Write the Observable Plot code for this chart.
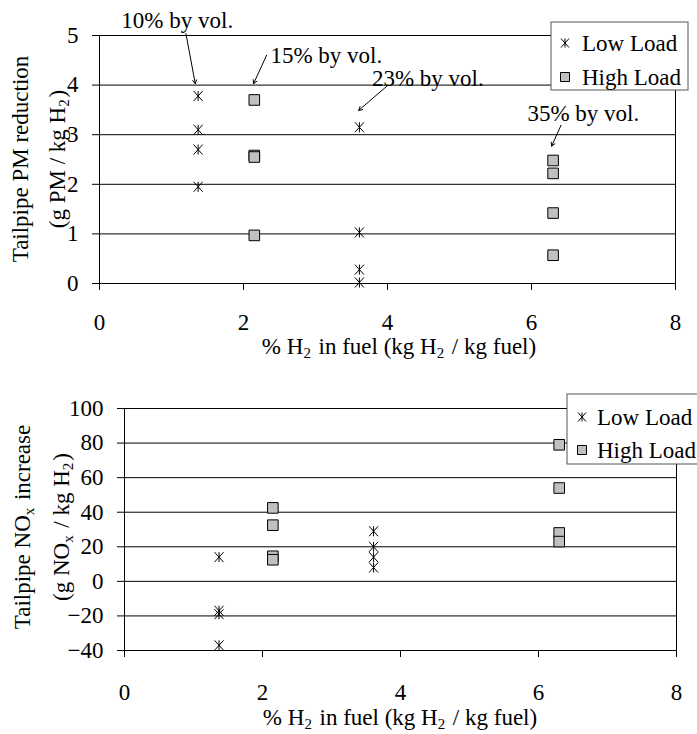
<!DOCTYPE html>
<html><head><meta charset="utf-8">
<script src="https://cdn.jsdelivr.net/npm/d3@7"></script>
<script src="https://cdn.jsdelivr.net/npm/@observablehq/plot@0.6"></script>
<style>
body{margin:0;background:#fff;width:697px;height:734px;overflow:hidden;position:relative;font-family:"Liberation Serif","Times New Roman","DejaVu Serif",serif}
#chartTop{position:absolute;left:0;top:0}
#chartBot{position:absolute;left:0;top:360px}
svg{overflow:visible}
svg text{font-family:"Liberation Serif","Times New Roman","DejaVu Serif",serif !important}
</style></head><body>
<div id="chartTop"></div><div id="chartBot"></div>
<script>
// ---- data ----
const xTicks = [0, 2, 4, 6, 8];
const pmTicks = [0, 1, 2, 3, 4, 5];
const noxTicks = [-40, -20, 0, 20, 40, 60, 80, 100];
const seriesNames = ["Low Load", "High Load"];

const pmLowX  = [1.37, 1.37, 1.37, 1.37, 3.61, 3.61, 3.61, 3.61];
const pmLowY  = [3.78, 3.10, 2.70, 1.95, 3.15, 1.03, 0.28, 0.02];
const pmHighX = [2.15, 2.15, 2.15, 2.15, 6.30, 6.30, 6.30, 6.30];
const pmHighY = [3.70, 2.58, 2.55, 0.97, 2.48, 2.22, 1.42, 0.57];

const noxLowX  = [1.37, 1.37, 1.37, 1.37, 3.61, 3.61, 3.61, 3.61];
const noxLowY  = [14, -17, -19, -37, 29, 20, 14, 8];
const noxHighX = [2.15, 2.15, 2.15, 2.15, 6.30, 6.30, 6.30, 6.30];
const noxHighY = [42.5, 32.5, 14.5, 12.5, 79, 54, 28, 23];

const annLabels = ["10% by vol.", "15% by vol.", "23% by vol.", "35% by vol."];
const annTextX  = [1.08, 3.15, 4.56, 6.72];
const annTextY  = [5.30, 4.60, 4.13, 3.43];
const annFromX  = [1.20, 2.32, 4.00, 6.41];
const annFromY  = [5.04, 4.60, 3.99, 3.19];
const annToX    = [1.33, 2.14, 3.60, 6.28];
const annToY    = [4.03, 4.03, 3.49, 2.77];

// ---- symbols ----
const starSym = {draw(ctx, size) {
  const r = Math.sqrt(size / Math.PI), a = r * 0.9;
  ctx.moveTo(-a, -r); ctx.lineTo(a, r);
  ctx.moveTo(a, -r); ctx.lineTo(-a, r);
  ctx.moveTo(0, -r); ctx.lineTo(0, r);
}};
const squareSym = {draw(ctx, size) {
  const r = Math.sqrt(size / Math.PI);
  ctx.rect(-r, -r, 2 * r, 2 * r);
}};
const FONT = "'Liberation Serif', 'Times New Roman', 'DejaVu Serif', serif";
const FS = 23;

function pts(xs, ys) { return xs.map((x, i) => ({x, y: ys[i]})); }
function idx(n) { return d3.range(n); }

function addText(g, x, y, parts, opts = {}) {
  const t = g.append("text")
    .attr("font-family", FONT).attr("font-size", FS).attr("fill", "#000")
    .attr("text-anchor", opts.anchor || "middle");
  if (opts.transform) t.attr("transform", opts.transform).attr("x", 0).attr("y", 0);
  else t.attr("x", x).attr("y", y);
  for (const p of parts) {
    if (typeof p === "string") {
      t.append("tspan").text(p);
    } else {
      t.append("tspan").attr("font-size", FS * 0.65).attr("dy", p.dy).text(p.sub);
      t.append("tspan").attr("dy", -p.dy).text("\u200A");
    }
  }
  return t;
}

function legend(svg, x, y, w, h, mx, tx, y1, y2) {
  const g = svg.append("g");
  g.append("rect").attr("x", x).attr("y", y).attr("width", w).attr("height", h)
    .attr("fill", "#fff").attr("stroke", "#555").attr("stroke-width", 1);
  g.append("path").attr("d", d3.symbol(starSym, 4.5 * 4.5 * Math.PI)())
    .attr("transform", `translate(${mx},${y1})`).attr("fill", "none").attr("stroke", "#000");
  g.append("path").attr("d", d3.symbol(squareSym, 4.5 * 4.5 * Math.PI)())
    .attr("transform", `translate(${mx},${y2})`).attr("fill", "#c0c0c0").attr("stroke", "#000");
  addText(g, tx, y1 + 8, [seriesNames[0]], {anchor: "start"});
  addText(g, tx, y2 + 8, [seriesNames[1]], {anchor: "start"});
}

function xTitle(svg, cx, by) {
  addText(svg, cx, by, ["% H", {sub: "2", dy: 4}, " in fuel (kg H", {sub: "2", dy: 4}, " / kg fuel)"]);
}

// ---- top chart ----
const topChart = Plot.plot({
  width: 697, height: 360,
  marginTop: 35, marginRight: 22, marginBottom: 77, marginLeft: 99,
  style: {fontFamily: FONT, fontSize: FS + "px", color: "#000", background: "transparent"},
  x: {domain: [0, 8], ticks: xTicks},
  y: {domain: [0, 5], ticks: pmTicks},
  marks: [
    Plot.gridY(pmTicks, {stroke: "#000", strokeOpacity: 1}),
    Plot.ruleX([0, 8], {stroke: "#000"}),
    Plot.axisX({ticks: xTicks, tickSize: 7, tickPadding: 23, fontSize: FS, label: null, tickFormat: d3.format("d")}),
    Plot.axisY({ticks: pmTicks, tickSize: 7, tickPadding: 14, fontSize: FS, label: null, tickFormat: d3.format("d")}),
    Plot.dot(pts(pmLowX, pmLowY), {x: "x", y: "y", symbol: starSym, r: 5, stroke: "#000", strokeWidth: 1, fill: "none"}),
    Plot.dot(pts(pmHighX, pmHighY), {x: "x", y: "y", symbol: squareSym, r: 5.3, stroke: "#000", strokeWidth: 1, fill: "#c0c0c0"}),
    Plot.arrow(idx(4), {x1: i => annFromX[i], y1: i => annFromY[i], x2: i => annToX[i], y2: i => annToY[i],
      stroke: "#000", strokeWidth: 1, headLength: 6}),
    Plot.text(idx(4), {x: i => annTextX[i], y: i => annTextY[i], text: i => annLabels[i],
      fontSize: FS, fontFamily: FONT, fill: "#000"})
  ]
});
document.getElementById("chartTop").appendChild(topChart);
{
  const svg = d3.select(topChart);
  addText(svg, 0, 0, ["Tailpipe PM reduction"], {transform: "translate(28,159) rotate(-90)"});
  addText(svg, 0, 0, ["(g PM / kg H", {sub: "2", dy: 4}, ")"], {transform: "translate(65,159) rotate(-90)"});
  xTitle(svg, 399, 354);
  legend(svg, 551, 22, 137, 68, 565, 582, 43, 77);
}

// ---- bottom chart ----
const botChart = Plot.plot({
  width: 697, height: 374,
  marginTop: 48, marginRight: 21, marginBottom: 84, marginLeft: 124,
  style: {fontFamily: FONT, fontSize: FS + "px", color: "#000", background: "transparent"},
  x: {domain: [0, 8], ticks: xTicks},
  y: {domain: [-40, 100], ticks: noxTicks},
  marks: [
    Plot.gridY(noxTicks, {stroke: "#000", strokeOpacity: 1}),
    Plot.ruleX([0, 8], {stroke: "#000"}),
    Plot.axisX({ticks: xTicks, tickSize: 7, tickPadding: 26, fontSize: FS, label: null, tickFormat: d3.format("d")}),
    Plot.axisY({ticks: noxTicks, tickSize: 7, tickPadding: 14, fontSize: FS, label: null, tickFormat: d3.format("d")}),
    Plot.dot(pts(noxLowX, noxLowY), {x: "x", y: "y", symbol: starSym, r: 5, stroke: "#000", strokeWidth: 1, fill: "none"}),
    Plot.dot(pts(noxHighX, noxHighY), {x: "x", y: "y", symbol: squareSym, r: 5.3, stroke: "#000", strokeWidth: 1, fill: "#c0c0c0"})
  ]
});
document.getElementById("chartBot").appendChild(botChart);
{
  const svg = d3.select(botChart);
  addText(svg, 0, 0, ["Tailpipe NO", {sub: "x", dy: 4}, " increase"], {transform: "translate(30,167) rotate(-90)"});
  addText(svg, 0, 0, ["(g NO", {sub: "x", dy: 4}, " / kg H", {sub: "2", dy: 4}, ")"], {transform: "translate(69,167) rotate(-90)"});
  xTitle(svg, 400, 365);
  legend(svg, 567, 34, 170, 70, 582, 597, 57, 90);
}
</script>
</body></html>
